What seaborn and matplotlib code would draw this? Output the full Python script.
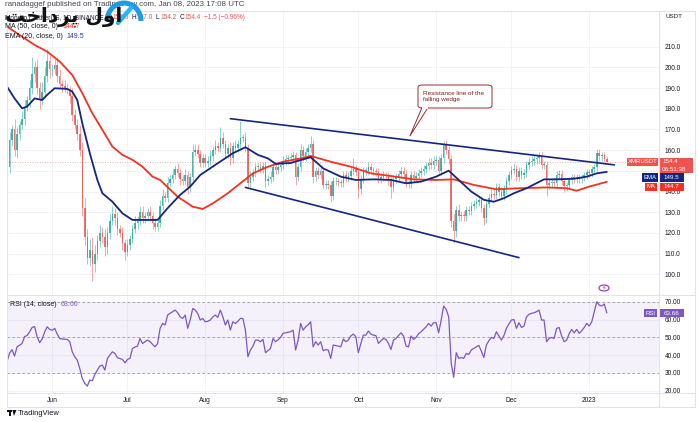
import numpy as np
import pandas as pd
import matplotlib.pyplot as plt
import seaborn as sns
from matplotlib.patches import Rectangle, Circle, FancyBboxPatch, Polygon, Arc
from matplotlib.lines import Line2D

# XMR/USDT daily candles, 14 May 2022 .. 8 Jan 2023
start_date = "2022-05-14"
first_open = 144.0
closes = [
    152, 165, 170, 160, 168, 172, 175, 181, 184, 190,
    197, 200, 190, 184, 188, 196, 203, 199, 199, 201,
    196, 192, 191, 190, 189, 186, 177, 172, 168, 160,
    132, 118, 108, 112, 105, 110, 116, 120, 118, 113,
    120, 126, 129, 127, 122, 120, 115, 111, 114, 117,
    122, 125, 126, 130, 127, 128, 130, 128, 125, 123,
    125, 133, 138, 137, 144, 146, 148, 151, 149, 146,
    145, 148, 142, 147, 159, 160, 158, 154, 156, 154,
    155, 157, 160, 162, 161, 166, 163, 158, 161, 156,
    162, 161, 163, 166, 166, 161, 144, 147, 149, 152,
    152, 151, 152.5, 145, 146, 147, 152, 150.5, 152, 153,
    155, 155.5, 156, 156.5, 157.5, 147, 152, 160, 157, 159,
    161, 163, 147, 150, 148, 150, 143, 143.5, 143, 138,
    145, 145, 144.5, 144, 148, 146.5, 147.5, 150, 151, 149.5,
    141, 146, 150, 150, 152, 150.5, 150, 149.5, 146, 147,
    148, 147.5, 145, 142, 146, 147, 148.5, 150, 148.5, 144,
    143.5, 148, 146.5, 147.5, 149, 150, 151, 152.5, 154, 153,
    155, 155.3, 150, 156, 163, 160, 155.5, 126, 121, 131,
    128, 128.5, 128, 131, 130.5, 133, 134, 135, 136, 132,
    127, 134, 137, 139, 138.5, 142, 140, 138, 141, 145,
    148, 150.5, 151, 147, 150, 148, 149, 153, 154.5, 155,
    155.5, 156, 157, 153, 153, 143, 144, 144.5, 144, 148,
    148.5, 145, 142.5, 143, 145.5, 147, 146, 147, 146, 147,
    148, 149.5, 149, 151, 152, 158.5, 157, 157.5, 155.9, 154.4,
]
upper_wick = [
    3, 4, 2, 5, 3, 2, 4, 3, 2, 4,
    8, 3, 4, 3, 5, 4, 6, 3, 2, 3,
    4, 3, 2, 3, 2, 2, 4, 3, 3, 4,
    4, 5, 4, 5, 6, 4, 3, 4, 3, 4,
    3, 3, 4, 3, 3, 2, 3, 2, 3, 2,
    2, 3, 2, 3, 3, 2, 2, 3, 2, 2,
    2, 3, 3, 2, 3, 2, 3, 2, 3, 2,
    2, 3, 2, 2, 4, 3, 3, 2, 2, 2,
    2, 3, 2, 3, 2, 5, 3, 2, 2, 3,
    2, 3, 2, 8, 2, 3, 2, 3, 2, 2,
    2, 2, 2, 2, 2, 3, 2, 2, 2, 2,
    2, 2, 1.5, 2, 2, 1.5, 2, 3, 2, 2,
    2, 4, 2, 2, 2, 2, 2, 2, 2, 2,
    2, 2, 1.5, 1.5, 2, 2, 2, 2, 5, 2,
    2, 2, 2, 2, 2.4, 2, 1.5, 1.5, 2, 2,
    2, 1.5, 2, 2, 2, 2, 2, 2, 2, 2,
    1.5, 2, 2, 2, 2, 2, 2, 2, 2, 2,
    2, 2, 2, 2, 1.5, 2, 2, 2, 3, 2,
    3, 2, 2, 2, 2, 2, 2, 2, 2, 2,
    2, 2, 2, 2, 2, 2, 2, 2, 2, 2,
    2, 2, 3, 2, 2, 2, 2, 2, 2, 2,
    2, 2, 2, 2, 2, 2, 2, 2, 2, 2,
    2, 2, 1.5, 1.5, 1.5, 1.5, 1.5, 1.5, 1.5, 1.5,
    1.5, 1.5, 1.5, 1.5, 1.5, 2, 2, 1.5, 1.5, 1.1,
]
lower_wick = [
    10, 3, 3, 3, 4, 3, 2, 3, 2, 3,
    3, 4, 3, 4, 2, 3, 3, 4, 3, 2,
    3, 2, 3, 2, 2, 3, 3, 2, 3, 3,
    4, 4, 3, 4, 8, 4, 3, 3, 3, 4,
    3, 3, 2, 3, 3, 2, 3, 4, 2, 2,
    2, 2, 3, 2, 2, 2, 2, 2, 3, 2,
    2, 2, 2, 2, 2, 2, 2, 2, 2, 3,
    2, 2, 3, 2, 2, 2, 2, 2, 2, 2,
    2, 2, 2, 2, 2, 2, 2, 2, 2, 3,
    2, 2, 2, 2, 2, 2, 2, 2, 2, 2,
    2, 2, 2, 3, 2, 2, 2, 2, 2, 2,
    2, 2, 2, 2, 2, 4, 2, 2, 2, 2,
    2, 2, 3, 2, 2, 2, 2, 2, 2, 3,
    2, 2, 2, 2, 2, 2, 2, 2, 2, 2,
    4, 2, 2, 2, 2, 2, 2, 2, 2, 2,
    2, 2, 2, 5, 2, 2, 2, 2, 2, 2,
    2, 2, 2, 2, 2, 2, 2, 2, 2, 2,
    2, 2, 2, 2, 2, 2, 2, 3, 6, 3,
    2, 2, 2, 2, 2, 2, 2, 2, 2, 2,
    3, 2, 2, 2, 2, 2, 2, 2, 2, 2,
    2, 2, 2, 2, 2, 2, 2, 2, 2, 2,
    2, 2, 2, 2, 2, 5, 2, 2, 2, 2,
    2, 2, 2.5, 2, 2, 2, 2, 2, 2, 2,
    2, 2, 2, 2, 2, 2, 2, 2, 1.5, 0.2,
]

# EMA 20 and MA 50, read at points along the curves (day number from start)
ema_day = [0, 3, 6, 8, 11, 14, 16, 19, 24, 26, 28, 30, 33, 36, 38, 42, 46, 50, 54, 60,
           64, 69, 73, 77, 84, 90, 95, 100, 104, 107, 113, 121, 126, 133, 139, 146, 153, 159, 165, 171,
           176, 180, 185, 190, 194, 198, 202, 207, 214, 219, 226, 231, 235, 239]
ema_val = [190.7, 185, 180.2, 181, 185, 184.2, 186.7, 189.9, 189.6, 188.3,
           184.2, 173, 158.5, 145.6, 139.2, 135.1, 129.5, 126.3, 126.3, 126.3,
           132, 138.4, 142.4, 148, 153.7, 158.5, 161.4, 157.7, 156, 153.4,
           153.8, 156.6, 151.2, 147.2, 145.6, 145.9, 145.6, 144, 144.8, 147.2,
           150.1, 145.6, 140, 136, 135.1, 136.8, 139.2, 141.6, 145.9, 145.9,
           146.2, 147.2, 148.8, 149.5]
ma_day = [0, 5, 11, 16, 21, 26, 30, 34, 38, 42, 46, 50, 54, 58, 61, 68, 74, 78, 82, 88,
          93, 98, 104, 110, 117, 121, 129, 137, 145, 153, 162, 171, 178, 186, 195, 204, 215, 223, 227, 232,
          239]
ma_val = [219.7, 215.6, 210.8, 207.6, 202.8, 196.3, 187.5, 177.8, 169.8, 161.7,
          157.7, 155.3, 152, 147.2, 145.6, 137.5, 132.7, 131.6, 134.3, 139.2,
          144, 148.8, 152, 154.4, 156, 157.2, 154.4, 152, 148.8, 147.5,
          145.9, 145.6, 145.9, 143.2, 141.1, 141.6, 142, 141.6, 140.4, 142.4,
          144.7]

# RSI 14, one value per day
rsi_val = [
    36.2, 41, 43, 39.4, 44.6, 45.5, 46.5, 50.3, 51, 53,
    55.5, 56, 50.3, 46.9, 49, 53, 55.9, 54.4, 54, 55,
    51.8, 49.3, 49, 48.9, 48.8, 47.5, 41.8, 39, 37.1, 32.4,
    26.8, 24, 22.5, 25.9, 25.5, 29, 31.5, 33.8, 34.3, 31.5,
    38, 40, 41.8, 40.9, 38.5, 38, 37.5, 35.6, 37.5, 38.1,
    43.7, 44.5, 45, 49.3, 46.5, 47.5, 48.4, 47.5, 46, 44.6,
    46.5, 55, 57.8, 56.9, 62.5, 63.5, 64.4, 65.3, 63.8, 61.5,
    60.6, 62.5, 55, 59.7, 66.2, 65.3, 63.4, 59.7, 60.6, 58.7,
    59, 59.7, 61.5, 62.5, 61.2, 65.3, 61.5, 56.9, 59.7, 54,
    58.7, 57.8, 59, 60.6, 60.6, 54, 39, 42.8, 45, 48.4,
    48.4, 47.5, 48.8, 41.3, 42.5, 43.7, 49.3, 47.5, 48.5, 49.9,
    52.2, 52.5, 52.8, 53.1, 54, 42.8, 48.4, 57.8, 54, 55.9,
    57, 58.7, 44.6, 47.5, 45.6, 47.5, 42.4, 43, 42.8, 38.1,
    45.6, 45.3, 45, 44.6, 49, 47.5, 48.4, 50.7, 51.8, 50.3,
    41.3, 46.5, 51.2, 51.2, 53.5, 51.8, 51.2, 50.9, 46.5, 48,
    49.3, 48.8, 46.5, 43.1, 48.4, 49.3, 51, 52.5, 50.7, 45,
    44.6, 50.7, 48.8, 49.9, 52, 53.1, 54.5, 55.9, 57.8, 56.3,
    58.2, 58.2, 52.5, 59.7, 67.6, 65.7, 61.5, 35.3, 27.4, 41.3,
    38.1, 38.6, 38.1, 40.9, 40.3, 42.8, 43.7, 44.6, 45.4, 42.2,
    38.6, 45.6, 48, 49.9, 49.3, 53.1, 50.7, 48.4, 51, 55,
    57.5, 59.7, 60, 55, 58.2, 55.5, 56.3, 61.5, 62.9, 63.5,
    63.8, 64.4, 65.3, 59.7, 59.7, 47.5, 49.3, 49.9, 49.3, 55,
    55.5, 50.7, 47.5, 48.4, 52, 54.4, 52.5, 54.4, 52.2, 53.7,
    55.5, 57.8, 56.3, 58.7, 64.4, 70, 68.1, 67.6, 68.7, 63.66,
]

# falling wedge trend lines
wedge_top_day = [89, 242]
wedge_top_val = [175.2, 152.9]
wedge_bot_day = [95, 204]
wedge_bot_val = [142.0, 108.1]

price_ticks = list(range(100, 220, 10))
rsi_ticks = [20, 30, 40, 50, 60, 70]
last_price = 154.4
ema_last = 149.5
ma_last = 144.7
rsi_last = 63.66

GREEN = "#26a69a"
RED = "#ef5350"
NAVY = "#14267f"
MA_RED = "#f3321f"
PURPLE = "#7e57c2"
GRID = "#f0f3fa"
FRAME = "#e0e3eb"
TXT = "#131722"

sns.set_style("white")
plt.rcParams["font.family"] = ["Liberation Sans", "DejaVu Sans"]

W, H = 698, 422
fig = plt.figure(figsize=(W / 100, H / 100), dpi=100)


def fx(x):
    return x / W


def fy(y):
    return 1 - y / H


def rect(x0, y0, x1, y1):
    return [fx(x0), fy(y1), fx(x1) - fx(x0), fy(y0) - fy(y1)]


ax = fig.add_axes(rect(6.5, 11, 659, 295))
ax2 = fig.add_axes(rect(6.5, 295, 659, 393), sharex=ax)

df = pd.DataFrame({"close": closes, "uw": upper_wick, "lw": lower_wick})
df["date"] = pd.date_range(start_date, periods=len(df))
df["day"] = np.arange(len(df))
df["open"] = df["close"].shift(1).fillna(first_open)
df["top"] = df[["open", "close"]].max(axis=1)
df["bot"] = df[["open", "close"]].min(axis=1)
df["high"] = df["top"] + df["uw"]
df["low"] = df["bot"] - df["lw"]
df["color"] = np.where(df["close"] >= df["open"], GREEN, RED)

# candles
ax.vlines(df["day"], df["low"], df["high"], colors=df["color"], lw=0.6, alpha=0.6, zorder=2)
ax.bar(df["day"], (df["top"] - df["bot"]).clip(lower=0.3), bottom=df["bot"],
       width=0.62, color=df["color"], lw=0, alpha=0.82, zorder=2)
ax.axhline(last_price, color=RED, lw=0.6, ls=(0, (1, 2)), alpha=0.6, zorder=1)

sns.lineplot(x=ma_day, y=ma_val, ax=ax, color=MA_RED, lw=1.3, zorder=4)
sns.lineplot(x=ema_day, y=ema_val, ax=ax, color=NAVY, lw=1.3, zorder=5)
sns.lineplot(x=wedge_top_day, y=wedge_top_val, ax=ax, color=NAVY, lw=1.2, zorder=5)
sns.lineplot(x=wedge_bot_day, y=wedge_bot_val, ax=ax, color=NAVY, lw=1.2, zorder=5)

month_days = df.loc[df["date"].dt.day == 1, "day"].tolist()
month_lbls = [d.strftime("%b") if d.month != 1 else str(d.year)
              for d in df.loc[df["date"].dt.day == 1, "date"]]

ax.set_xlim(-0.2, 259.8)
ax.set_ylim(90.05, 227.2)
ax.set_yticks(price_ticks)
ax.set_yticklabels([f"{t:.1f}" for t in price_ticks])
ax.yaxis.tick_right()
ax.tick_params(axis="y", length=0, pad=4.3, labelsize=4.7, labelcolor=TXT)
ax.tick_params(axis="x", length=0, labelbottom=False)
ax.set_xticks(month_days)
ax.grid(True, color=GRID, lw=0.7)
ax.set_axisbelow(True)
ax.set_xlabel("")
ax.set_ylabel("")

# RSI pane
ax2.axhspan(30, 70, color=PURPLE, alpha=0.08, lw=0)
for lvl in (70, 50, 30):
    ax2.axhline(lvl, color="#9598a1", lw=0.6, ls=(0, (3, 3)))
sns.lineplot(x=df["day"], y=rsi_val, ax=ax2, color=PURPLE, lw=0.9, zorder=3)
ax2.set_ylim(18.6, 73.8)
ax2.set_yticks(rsi_ticks)
ax2.set_yticklabels([f"{t:.2f}" for t in rsi_ticks])
ax2.yaxis.tick_right()
ax2.tick_params(axis="y", length=0, pad=4.3, labelsize=4.7, labelcolor=TXT)
ax2.set_xticks(month_days)
ax2.set_xticklabels(month_lbls)
ax2.tick_params(axis="x", length=0, pad=2.6, labelsize=4.8, labelcolor=TXT)
ax2.grid(True, color=GRID, lw=0.7)
ax2.set_axisbelow(True)
ax2.set_xlabel("")
ax2.set_ylabel("")

for a in (ax, ax2):
    for s in a.spines.values():
        s.set_visible(False)

# frame
for (x0, y0, x1, y1) in [(6.5, 11, 695, 11), (6.5, 295, 695, 295), (6.5, 393, 695, 393),
                         (6.5, 407, 695, 407), (6.5, 11, 6.5, 407), (659, 11, 659, 407),
                         (695, 11, 695, 407)]:
    fig.add_artist(Line2D([fx(x0), fx(x1)], [fy(y0), fy(y1)], color=FRAME, lw=0.8))


def to_px(a, d, v):
    X, Y = a.transData.transform((d, v))
    return X, H - Y


def tag(x0, x1, y0, y1, label, color, size=4.3):
    fig.add_artist(Rectangle((fx(x0), fy(y1)), fx(x1) - fx(x0), fy(y0) - fy(y1),
                             transform=fig.transFigure, color=color, lw=0))
    fig.text(fx((x0 + x1) / 2), fy((y0 + y1) / 2), label, color="white",
             fontsize=size, ha="center", va="center")


# right-hand labels
fig.text(fx(665), fy(17), "USDT", fontsize=4.5, color=TXT, va="center")
_, yp = to_px(ax, 0, last_price)
fig.add_artist(Rectangle((fx(659), fy(yp + 11.6)), fx(693) - fx(659), fy(yp - 4) - fy(yp + 11.6),
                         transform=fig.transFigure, color=RED, lw=0))
fig.text(fx(662), fy(yp - 0.3), f"{last_price:.1f}", color="white", fontsize=4.5, va="center")
fig.text(fx(662), fy(yp + 7.9), "06:51:38", color="white", fontsize=4.5, va="center")
tag(627, 657.5, yp - 4, yp + 4.3, "XMRUSDT", RED)
tag(641.5, 657.5, yp + 11.6, yp + 20.2, "EMA", NAVY)
tag(659, 684, yp + 11.6, yp + 20.2, f"{ema_last:.1f}", NAVY, 4.5)
tag(645, 657.5, yp + 20.8, yp + 29.2, "MA", MA_RED)
tag(659, 684, yp + 20.8, yp + 29.2, f"{ma_last:.1f}", MA_RED, 4.5)
_, yr = to_px(ax2, 0, rsi_last)
tag(644, 657.5, yr - 4, yr + 4, "RSI", PURPLE)
tag(659, 684, yr - 4, yr + 4, f"{rsi_last:.2f}", PURPLE, 4.5)

# callout on the upper wedge line
tip_day = 160.5
tip_x, tip_y = to_px(ax, tip_day, np.interp(tip_day, wedge_top_day, wedge_top_val) + 2)
box_col = "#9b2c2c"
fig.add_artist(FancyBboxPatch((fx(418), fy(108)), fx(492) - fx(418), fy(85) - fy(108),
                              boxstyle="round,pad=0,rounding_size=0.006",
                              transform=fig.transFigure, fc="white", ec=box_col, lw=0.7, zorder=6))
fig.add_artist(Polygon([(fx(422), fy(107.6)), (fx(428), fy(107.6)), (fx(tip_x), fy(tip_y))],
                       closed=True, transform=fig.transFigure, fc="white", ec=box_col, lw=0.7, zorder=6))
fig.add_artist(Rectangle((fx(422.4), fy(108.6)), fx(5.2), fy(107) - fy(108.6),
                         transform=fig.transFigure, color="white", lw=0, zorder=7))
fig.text(fx(423), fy(96.5), "Resistance line of the\nfalling wedge", color="#8a1c1c",
         fontsize=4.6, va="center", ha="left", linespacing=1.15, zorder=8)

# lightning marker above the RSI pane
fig.add_artist(Circle((fx(604), fy(288)), 5 / W, transform=fig.transFigure,
                      fc="white", ec="#9c27b0", lw=0.8, zorder=6))
fig.text(fx(604), fy(288), "\u26a1", color="#9c27b0", fontsize=4.5, ha="center", va="center",
         family=["DejaVu Sans"], zorder=7)

# header lines
renderer = fig.canvas.get_renderer()


def text_run(x, y, pieces, size=5.2):
    for s, color, gap in pieces:
        t = fig.text(fx(x), fy(y), s, color=color, fontsize=size, ha="left", va="center", zorder=9)
        x += t.get_window_extent(renderer).width + gap


text_run(5, 4.8, [("ranadaggef published on TradingView.com, Jan 08, 2023 17:08 UTC", "#434651", 0)],
         size=5.7)
text_run(5, 17.3, [("Monero / TetherUS, 1D, BINANCE", TXT, 3),
                   ("O", TXT, 0.6), ("156.0", RED, 3), ("H", TXT, 0.6), ("157.0", RED, 3),
                   ("L", TXT, 0.6), ("154.2", RED, 3), ("C", TXT, 0.6), ("154.4", RED, 3),
                   ("\u22121.5 (\u22120.96%)", RED, 0)], size=4.7)
text_run(5, 27, [("MA (50, close, 0)", TXT, 4), (f"{ma_last:.1f}", MA_RED, 0)], size=5.0)
text_run(5, 37, [("EMA (20, close, 0)", TXT, 4), (f"{ema_last:.1f}", "#2a3aa8", 0)], size=5.0)
text_run(10, 304, [("RSI (14, close)", TXT, 4), (f"{rsi_last:.2f}", PURPLE, 0)], size=5.0)

# watermark logo: "اول پرداخت" in shaped, visual-order presentation forms
fig.text(fx(5), fy(17), "\ufe96\ufea7\ufe8d\ufea9\ufeae\ufb58 \ufedd\ufeed\ufe8d",
         family=["DejaVu Sans"], fontweight="bold", fontsize=14.5, color="#111111",
         ha="left", va="center", zorder=10)
fig.add_artist(Arc((fx(124), fy(21)), 34 / W, 36 / H, theta1=0, theta2=180,
                   transform=fig.transFigure, color="#1e9be6", lw=3.6, zorder=10))
fig.add_artist(Line2D([fx(118), fx(131)], [fy(23), fy(8)], color="#29b6f6", lw=3.2,
                      solid_capstyle="round", zorder=10))

# TradingView footer
fig.add_artist(Rectangle((fx(7), fy(412)), fx(4.5), fy(410) - fy(412), transform=fig.transFigure,
                         color=TXT, lw=0))
fig.add_artist(Rectangle((fx(9.2), fy(416)), fx(2.2), fy(410) - fy(416), transform=fig.transFigure,
                         color=TXT, lw=0))
fig.add_artist(Polygon([(fx(12.3), fy(410)), (fx(16.5), fy(410)), (fx(14), fy(416))],
                       closed=True, transform=fig.transFigure, color=TXT, lw=0))
fig.text(fx(18), fy(413.2), "TradingView", fontsize=5.4, color=TXT, va="center")

fig.savefig("out.png", dpi=100)
